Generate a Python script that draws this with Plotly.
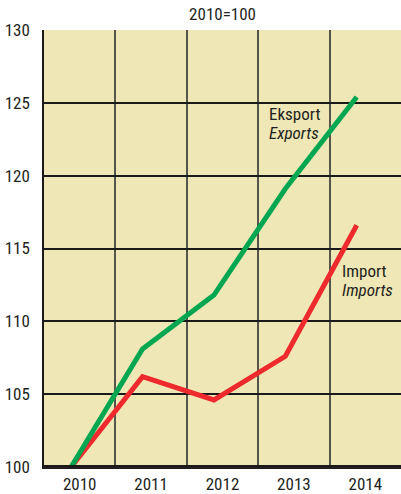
import plotly.graph_objects as go

years = [2010, 2011, 2012, 2013, 2014]
exports = [100, 108.1, 111.8, 119.1, 125.4]
imports = [100, 106.2, 104.6, 107.6, 116.6]
y_ticks = [100, 105, 110, 115, 120, 125, 130]

FONT = "Liberation Sans Narrow, Roboto Condensed, Liberation Sans, Arial, sans-serif"
TXT = "#231f20"
FS = 17

fig = go.Figure()
fig.add_trace(go.Scatter(x=years, y=imports, mode="lines",
                         line=dict(color="#ee2a2e", width=5), hoverinfo="skip"))
fig.add_trace(go.Scatter(x=years, y=exports, mode="lines",
                         line=dict(color="#00a650", width=5), hoverinfo="skip"))

labels = [("Eksport", 2012.74, 124.2), ("<i>Exports</i>", 2012.74, 122.93),
          ("Import", 2013.76, 113.45), ("<i>Imports</i>", 2013.76, 112.15)]
for txt, lx, ly in labels:
    fig.add_annotation(x=lx, y=ly, xref="x", yref="y", text=txt,
                       showarrow=False, xanchor="left", yanchor="middle", align="left",
                       font=dict(family=FONT, size=FS, color=TXT))

fig.update_layout(
    width=401, height=494,
    margin=dict(l=44, r=0, t=30, b=27, autoexpand=False),
    paper_bgcolor="white", plot_bgcolor="#efe7b5",
    showlegend=False,
    title=dict(text="2010=100", x=0.555, xanchor="center", y=0.972, yanchor="middle",
               font=dict(family=FONT, size=FS, color=TXT)),
    font=dict(family=FONT, size=FS, color=TXT),
)
fig.update_xaxes(
    range=[2009.62, 2014.62], automargin=False,
    tickmode="array", tickvals=[y + 0.12 for y in years], ticktext=[str(y) for y in years],
    showgrid=False, zeroline=False, ticks="", ticklen=0, ticklabelstandoff=1,
    minor=dict(tickmode="linear", tick0=2009.62, dtick=1, showgrid=True,
               gridcolor="#55554c", gridwidth=1.5, ticks=""),
    showline=True, linecolor="#231f20", linewidth=1.5, mirror=False,
    tickfont=dict(family=FONT, size=FS, color=TXT),
    fixedrange=True,
)
fig.update_yaxes(
    range=[100, 130], tickmode="array", tickvals=y_ticks, automargin=False,
    showgrid=True, gridcolor="#1a1a1a", gridwidth=1.5,
    zeroline=False, ticks="", ticklen=0, ticklabelstandoff=9,
    showline=True, linecolor="#1a1a1a", linewidth=1.5,
    tickfont=dict(family=FONT, size=FS, color=TXT),
    fixedrange=True,
)
fig.add_shape(type="line", xref="paper", yref="y", x0=0, x1=1, y0=100, y1=100,
              line=dict(color="#1a1a1a", width=4), layer="above")

fig.write_html("out.html", config={"displayModeBar": False})

with open("out.html", "r", encoding="utf-8") as f:
    html = f.read()
html = html.replace("<head>", "<head><style>html,body{margin:0;padding:0;overflow:hidden;}</style>", 1)
with open("out.html", "w", encoding="utf-8") as f:
    f.write(html)
